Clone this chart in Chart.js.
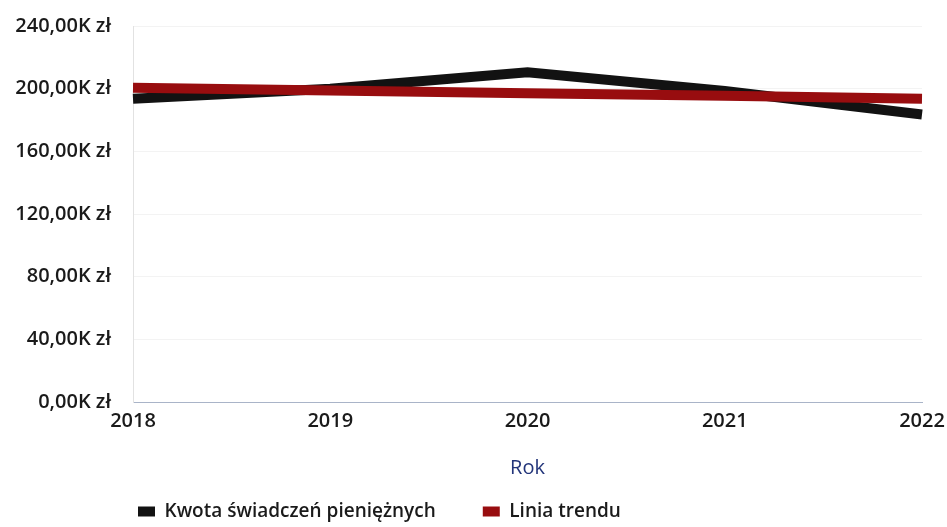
<!DOCTYPE html>
<html>
<head>
<meta charset="utf-8">
<script src="https://cdn.jsdelivr.net/npm/chart.js@4"></script>
<style>
  html, body { margin: 0; padding: 0; background: #fff; }
  #wrap { width: 947px; height: 527px; }
</style>
</head>
<body>
<div id="wrap"><canvas id="js-canvas-kwota"></canvas></div>
<script>
const years = ['2018', '2019', '2020', '2021', '2022'];
const kwota = [193500, 200000, 210500, 198500, 183500];
const trend = [200600, 198900, 197100, 195400, 193600];
const yTicks = [0, 40000, 80000, 120000, 160000, 200000, 240000];

const font = 'Open Sans';

function zl (v) {
  return (v / 1000).toFixed(2).replace('.', ',') + 'K zł';
}

// legend starts under the plot, not at the canvas edge
const legendShift = {
  id: 'legendShift',
  afterLayout (chart) {
    chart.legend.left = 91;
  }
};

const ctx = document.getElementById('js-canvas-kwota');
new Chart(ctx, {
  type: 'line',
  data: {
    labels: years,
    datasets: [
      {
        label: 'Kwota świadczeń pieniężnych',
        data: kwota,
        borderColor: '#121212',
        backgroundColor: '#121212',
        borderWidth: 10,
        pointRadius: 0,
        tension: 0,
        order: 1
      },
      {
        label: 'Linia trendu',
        data: trend,
        borderColor: '#980d0f',
        backgroundColor: '#980d0f',
        borderWidth: 10,
        pointRadius: 0,
        tension: 0,
        order: 0
      }
    ]
  },
  plugins: [legendShift],
  options: {
    responsive: true,
    maintainAspectRatio: false,
    animation: false,
    layout: { padding: { top: 26, right: 25, left: 0, bottom: -4 } },
    plugins: {
      tooltip: { enabled: false },
      legend: {
        position: 'bottom',
        align: 'start',
        labels: {
          boxWidth: 17,
          boxHeight: 10,
          color: '#1a1a1a',
          padding: 47,
          font: { family: font, size: 19, weight: '600' },
          sort: (a, b) => a.datasetIndex - b.datasetIndex,
          generateLabels: (chart) => {
            const items = Chart.defaults.plugins.legend.labels.generateLabels(chart);
            items.forEach(it => { it.lineWidth = 0; });
            return items;
          }
        }
      }
    },
    scales: {
      x: {
        offset: false,
        afterFit: (axis) => { axis.paddingLeft = 0; axis.paddingRight = 0; },
        grid: { display: false, drawTicks: false },
        border: { color: '#a9b4c8', width: 1 },
        ticks: {
          color: '#1a1a1a',
          padding: 7,
          maxRotation: 0,
          font: { family: font, size: 20, weight: '600' }
        },
        title: {
          display: true,
          text: 'Rok',
          color: '#23357a',
          padding: { top: 16, bottom: -25 },
          font: { family: font, size: 20, weight: '400' }
        }
      },
      y: {
        min: 0,
        max: 240000,
        afterBuildTicks: (axis) => {
          axis.ticks = yTicks.map(v => ({ value: v }));
        },
        afterFit: (axis) => {
          axis.width = 133;
          axis.paddingTop = 0;
          axis.paddingBottom = 0;
        },
        grid: { color: '#f3f3f3', drawTicks: false },
        border: { color: '#e2e2e2', width: 1 },
        ticks: {
          color: '#1a1a1a',
          padding: 22,
          font: { family: font, size: 20, weight: '600' },
          callback: (v) => zl(v)
        }
      }
    }
  }
});
</script>
</body>
</html>
